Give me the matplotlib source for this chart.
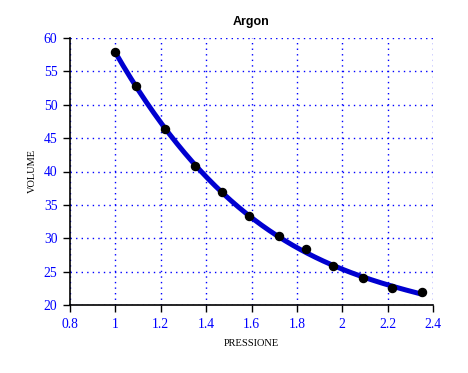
import numpy as np
import matplotlib
matplotlib.use("Agg")
import matplotlib.pyplot as plt

pressione = [1.00, 1.09, 1.22, 1.35, 1.47, 1.59, 1.72, 1.84, 1.96, 2.09, 2.22, 2.35]
volume = [57.9, 52.8, 46.4, 40.8, 36.9, 33.3, 30.3, 28.4, 25.8, 24.0, 22.5, 21.9]
x_ticks = [0.8, 1, 1.2, 1.4, 1.6, 1.8, 2, 2.2, 2.4]
x_tick_labels = ["0.8", "1", "1.2", "1.4", "1.6", "1.8", "2", "2.2", "2.4"]
y_ticks = [20, 25, 30, 35, 40, 45, 50, 55, 60]

W, H = 468, 373
fig = plt.figure(figsize=(W / 100, H / 100), dpi=100)
ax = fig.add_axes([70 / W, 1 - 305 / H, (433 - 70) / W, (305 - 38) / H])

# trendline fitted to the data
coef = np.polyfit(pressione, volume, 3)
xs = np.linspace(min(pressione), max(pressione), 200)
ax.plot(xs, np.polyval(coef, xs), color="#0000d0", lw=3.6, solid_capstyle="butt", zorder=3)
ax.plot(pressione, volume, "o", color="black", ms=5.8, zorder=4)

ax.set_xlim(0.8, 2.4)
ax.set_ylim(20, 60)
ax.set_xticks(x_ticks)
ax.set_xticklabels(x_tick_labels)
ax.set_yticks(y_ticks)
ax.grid(True, color="#0000ff", linestyle=(0, (1, 3)), linewidth=1)
ax.set_axisbelow(True)
for s in ["top", "right"]:
    ax.spines[s].set_visible(False)
for s in ["left", "bottom"]:
    ax.spines[s].set_color("black")
    ax.spines[s].set_linewidth(1.2)
ax.tick_params(direction="out", length=5, width=1, color="black", labelcolor="#0000ff",
               labelsize=9.8, pad=4)
for lab in ax.get_xticklabels() + ax.get_yticklabels():
    lab.set_family("Liberation Serif")

fig.text(251 / W, 1 - 22 / H, "Argon", ha="center", va="center",
         fontsize=9, fontweight="bold", family="Liberation Sans")
fig.text(251 / W, 1 - 343 / H, "PRESSIONE", ha="center", va="center",
         fontsize=7.5, family="Liberation Serif")
fig.text(32 / W, 1 - 171 / H, "VOLUME", ha="center", va="center", rotation=90,
         fontsize=7.5, family="Liberation Serif")

fig.savefig("out.png", dpi=100)
